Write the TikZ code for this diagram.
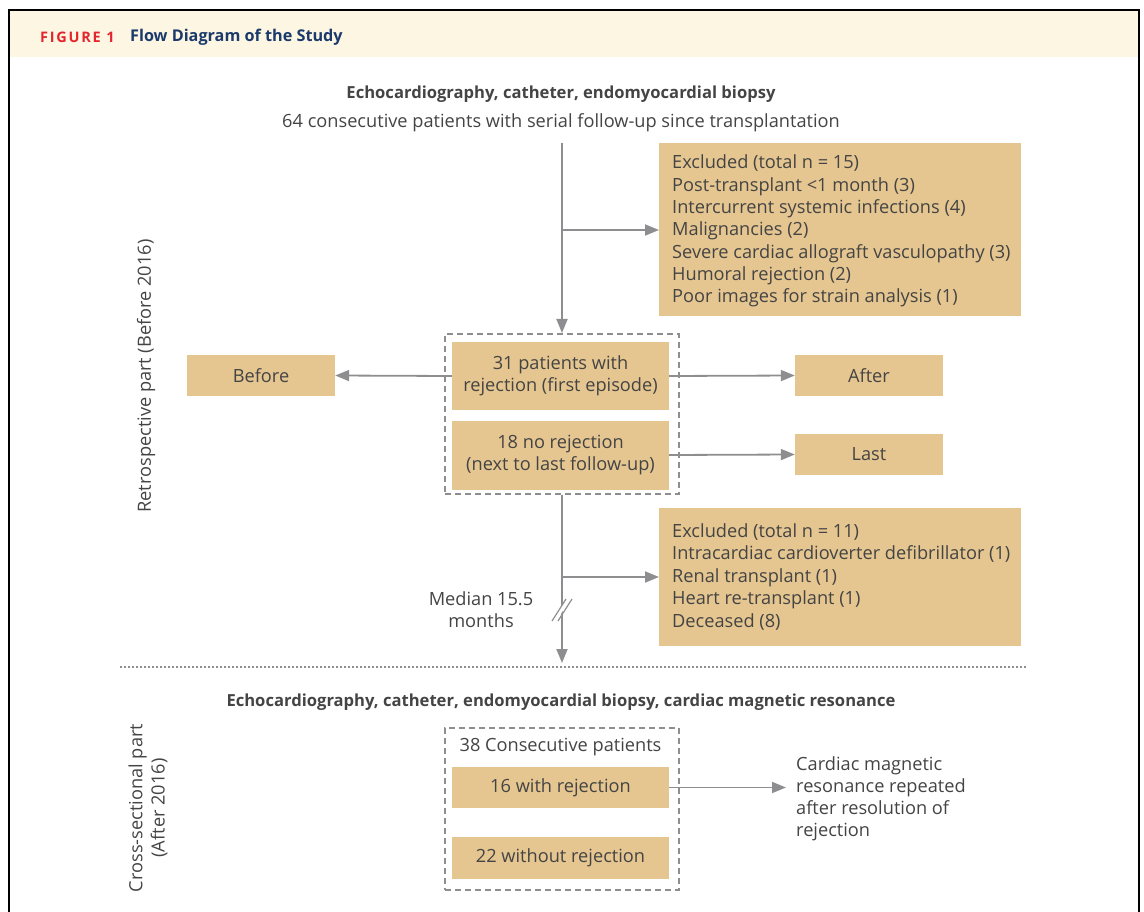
\documentclass[tikz,border=0pt]{standalone}
\usepackage{fontspec}
\setmainfont{Open Sans}
\newfontfamily\figfont[LetterSpace=12,UprightFont=*,BoldFont=* Bold]{Open Sans}
\usetikzlibrary{arrows.meta}
\definecolor{boxtan}{HTML}{E5C690}
\definecolor{linegray}{HTML}{8E8E90}
\definecolor{txtgray}{HTML}{444444}
\definecolor{headcream}{HTML}{FDF6E3}
\definecolor{figred}{HTML}{E3262E}
\definecolor{figblue}{HTML}{1B3A6B}
\tikzset{
  txt/.style={font=\fontsize{18.2}{22.3}\selectfont, text=txtgray, inner sep=0pt},
  btxt/.style={font=\fontsize{16.6}{22}\selectfont\bfseries, text=txtgray, inner sep=0pt},
  tanbox/.style={fill=boxtan, draw=none, inner sep=0pt, font=\fontsize{18.2}{22.3}\selectfont, text=txtgray, align=center},
  dashbox/.style={draw=linegray, line width=1.6pt, dash pattern=on 6pt off 4pt},
  conn/.style={draw=linegray, line width=1.8pt},
  arr/.style={conn, -{Triangle[length=14pt,width=11pt]}},
}
\begin{document}
\begin{tikzpicture}[x=1pt,y=-1pt]
\useasboundingbox (0,0) rectangle (1144,912);
% frame and header
\fill[headcream] (9,11) rectangle (1139,57);
\draw[black, line width=2.4pt] (9,920) -- (9,10) -- (1139,10) -- (1139,920);
\node[anchor=west, inner sep=0pt, text=figred, font=\fontsize{14.5}{16}\figfont\bfseries] (fig) at (40,37.5) {FIGURE 1};
\node[anchor=west, inner sep=0pt, text=figblue, font=\fontsize{16.2}{18}\selectfont\bfseries] (figtitle) at (130,37) {Flow Diagram of the Study};

% top
\node[btxt] (t1) at (561,94.5) {Echocardiography, catheter, endomyocardial biopsy};
\node[txt] (t2) at (561,123) {64 consecutive patients with serial follow-up since transplantation};

% exclusion box 1
\node[tanbox, minimum width=362pt, minimum height=173pt, anchor=north west] (ex1) at (659,143) {};
\foreach \t [count=\i from 0] in {Excluded (total n = 15),Post-transplant <1 month (3),Intercurrent systemic infections (4),Malignancies (2),Severe cardiac allograft vasculopathy (3),Humoral rejection (2),Poor images for strain analysis (1)}
  \node[txt, anchor=base west] (ex1l\i) at (672,169+22.3*\i) {\t};

% dashed group 1
\node[dashbox, minimum width=234pt, minimum height=160pt, anchor=north west, inner sep=0pt] (g1) at (444,333) {};
\node[tanbox, minimum width=217pt, minimum height=68pt] (rej) at (560.5,376) {31 patients with\\rejection (first episode)};
\node[tanbox, minimum width=217pt, minimum height=69pt] (norej) at (560.5,455) {18 no rejection\\(next to last follow-up)};

\node[tanbox, minimum width=148pt, minimum height=41pt] (before) at (261,375.5) {Before};
\node[tanbox, minimum width=148pt, minimum height=41pt] (after) at (869,375.5) {After};
\node[tanbox, minimum width=148pt, minimum height=41pt] (last) at (869,454.5) {Last};

% exclusion box 2
\node[tanbox, minimum width=362pt, minimum height=138pt, anchor=north west] (ex2) at (659,508) {};
\foreach \t [count=\i from 0] in {Excluded (total n = 11),Intracardiac cardioverter defibrillator (1),Renal transplant (1),Heart re-transplant (1),Deceased (8)}
  \node[txt, anchor=base west] (ex2l\i) at (672,537+22.6*\i) {\t};

\node[txt, align=center] (median) at (481,610) {Median 15.5\\months};

% connectors top part
\coordinate (top) at (562,143);
\coordinate (br1) at (562,230);
\draw[arr] (top) -- (g1.north -| top);
\draw[arr] (br1) -- (br1 -| ex1.west);
\draw[arr] (rej.west) -- (before.east);
\draw[arr] (rej.east) -- (after.west);
\draw[arr] (norej.east) -- (last.west);
\coordinate (bot) at (562,663);
\coordinate (br2) at (562,577);
\draw[arr] (g1.south -| top) -- (bot);
\draw[arr] (br2) -- (br2 -| ex2.west);
\fill[white] (553,620) -- (567,598) -- (571,598) -- (557,620) -- cycle;
\draw[linegray, line width=1.2pt] (552,621) -- (566,599);
\draw[linegray, line width=1.2pt] (558,621) -- (572,599);

% dotted separator
\coordinate (sepL) at (120,667);
\coordinate (sepR) at (1027,667);
\draw[linegray, line width=1.6pt, dash pattern=on 1.6pt off 2.4pt] (sepL) -- (sepR);

% bottom part
\node[btxt] (t3) at (561,702.5) {Echocardiography, catheter, endomyocardial biopsy, cardiac magnetic resonance};
\node[dashbox, minimum width=234pt, minimum height=162pt, anchor=north west, inner sep=0pt] (g2) at (444,727) {};
\node[txt] (cons) at (560.5,747.5) {38 Consecutive patients};
\node[tanbox, minimum width=217pt, minimum height=41pt] (with) at (560.5,787.5) {16 with rejection};
\node[tanbox, minimum width=217pt, minimum height=42pt] (without) at (560.5,858) {22 without rejection};
\foreach \t [count=\i from 0] in {Cardiac magnetic,resonance repeated,after resolution of,rejection}
  \node[txt, anchor=base west] (cmr\i) at (796,770+22.2*\i) {\t};
\draw[arr] (with.east) -- (786,787.5);

% side labels
\node[txt, rotate=90] (retro) at (146,376) {Retrospective part (Before 2016)};
\node[txt, rotate=90, align=center] (cross) at (148,808) {Cross-sectional part\\(After 2016)};
\end{tikzpicture}
\end{document}
